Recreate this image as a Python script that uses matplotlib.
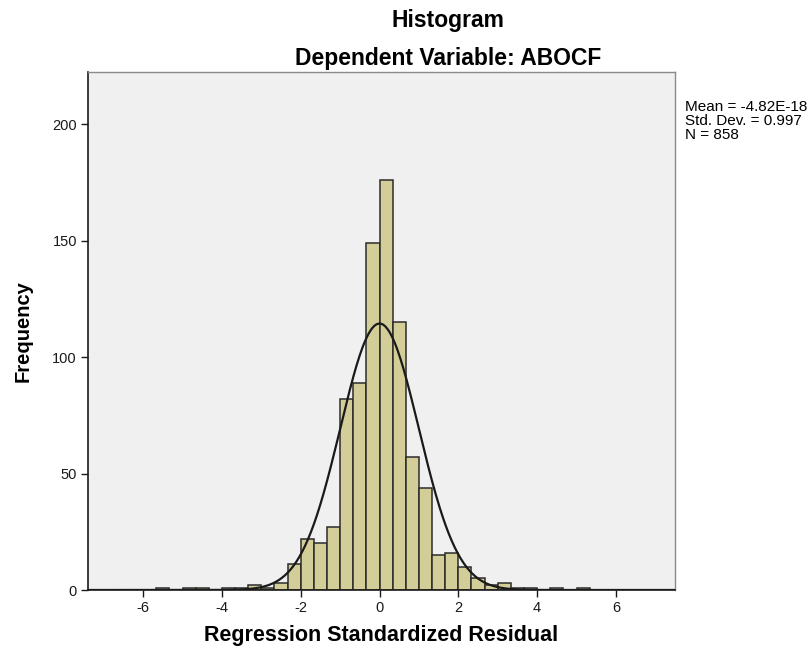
import numpy as np
import matplotlib
matplotlib.use("Agg")
import matplotlib.pyplot as plt

# Data: bin edges are multiples of 1/3, starting at -17/3
bin_start_thirds = -17
counts = [1, 0, 1, 1, 0, 1, 1, 2, 1, 3, 11, 22, 20, 27, 82, 89, 149, 176,
          115, 57, 44, 15, 16, 10, 5, 2, 3, 1, 1, 0, 1, 0, 1]
mean_val = -4.82e-18
std_val = 0.997
n_val = 858
xticks = [-6, -4, -2, 0, 2, 4, 6]
yticks = [0, 50, 100, 150, 200]

plt.rcParams['font.family'] = ['Liberation Sans', 'DejaVu Sans']

width = 1.0 / 3.0
edges = np.array([(bin_start_thirds + i) / 3.0 for i in range(len(counts))])

fig = plt.figure(figsize=(8.09, 6.51), dpi=100)
fig.patch.set_facecolor('white')
ax = fig.add_axes([88/809, 61/651, 587/809, 518/651])
ax.set_facecolor('#F0F0F0')

ax.bar(edges, counts, width=width, align='edge', color='#D3CE97',
       edgecolor='#2b2b2b', linewidth=1.1, zorder=2)

xs = np.linspace(-7.4, 7.5, 600)
pdf = n_val * width / (std_val * np.sqrt(2 * np.pi)) * np.exp(-0.5 * ((xs - mean_val) / std_val) ** 2)
ax.plot(xs, pdf, color='#1a1a1a', linewidth=1.6, zorder=3)

ax.set_xlim(-7.4, 7.5)
ax.set_ylim(0, 222.5)
ax.set_xticks(xticks)
ax.set_xticklabels([str(t) for t in xticks])
ax.set_yticks(yticks)
ax.set_yticklabels([str(t) for t in yticks])
ax.tick_params(direction='out', length=5, width=1, labelsize=10.5, colors='#1a1a1a', pad=3)

for s in ['top', 'right']:
    ax.spines[s].set_color('#8a8a8a')
    ax.spines[s].set_linewidth(1.0)
for s in ['left', 'bottom']:
    ax.spines[s].set_color('#1a1a1a')
    ax.spines[s].set_linewidth(1.2)

ax.set_xlabel('Regression Standardized Residual', fontsize=15.5, fontweight='bold', labelpad=7)
ax.set_ylabel('Frequency', fontsize=14.5, fontweight='bold', labelpad=14)

fig.text(448/809, 1 - 20/651, 'Histogram', ha='center', va='center', fontsize=16.5, fontweight='bold')
fig.text(448/809, 1 - 58/651, 'Dependent Variable: ABOCF', ha='center', va='center', fontsize=16.5, fontweight='bold')

fig.text(685/809, 1 - 100/651,
         'Mean = -4.82E-18\nStd. Dev. = 0.997\nN = 858',
         ha='left', va='top', fontsize=11, linespacing=1.0)

fig.savefig('out.png', dpi=100)
